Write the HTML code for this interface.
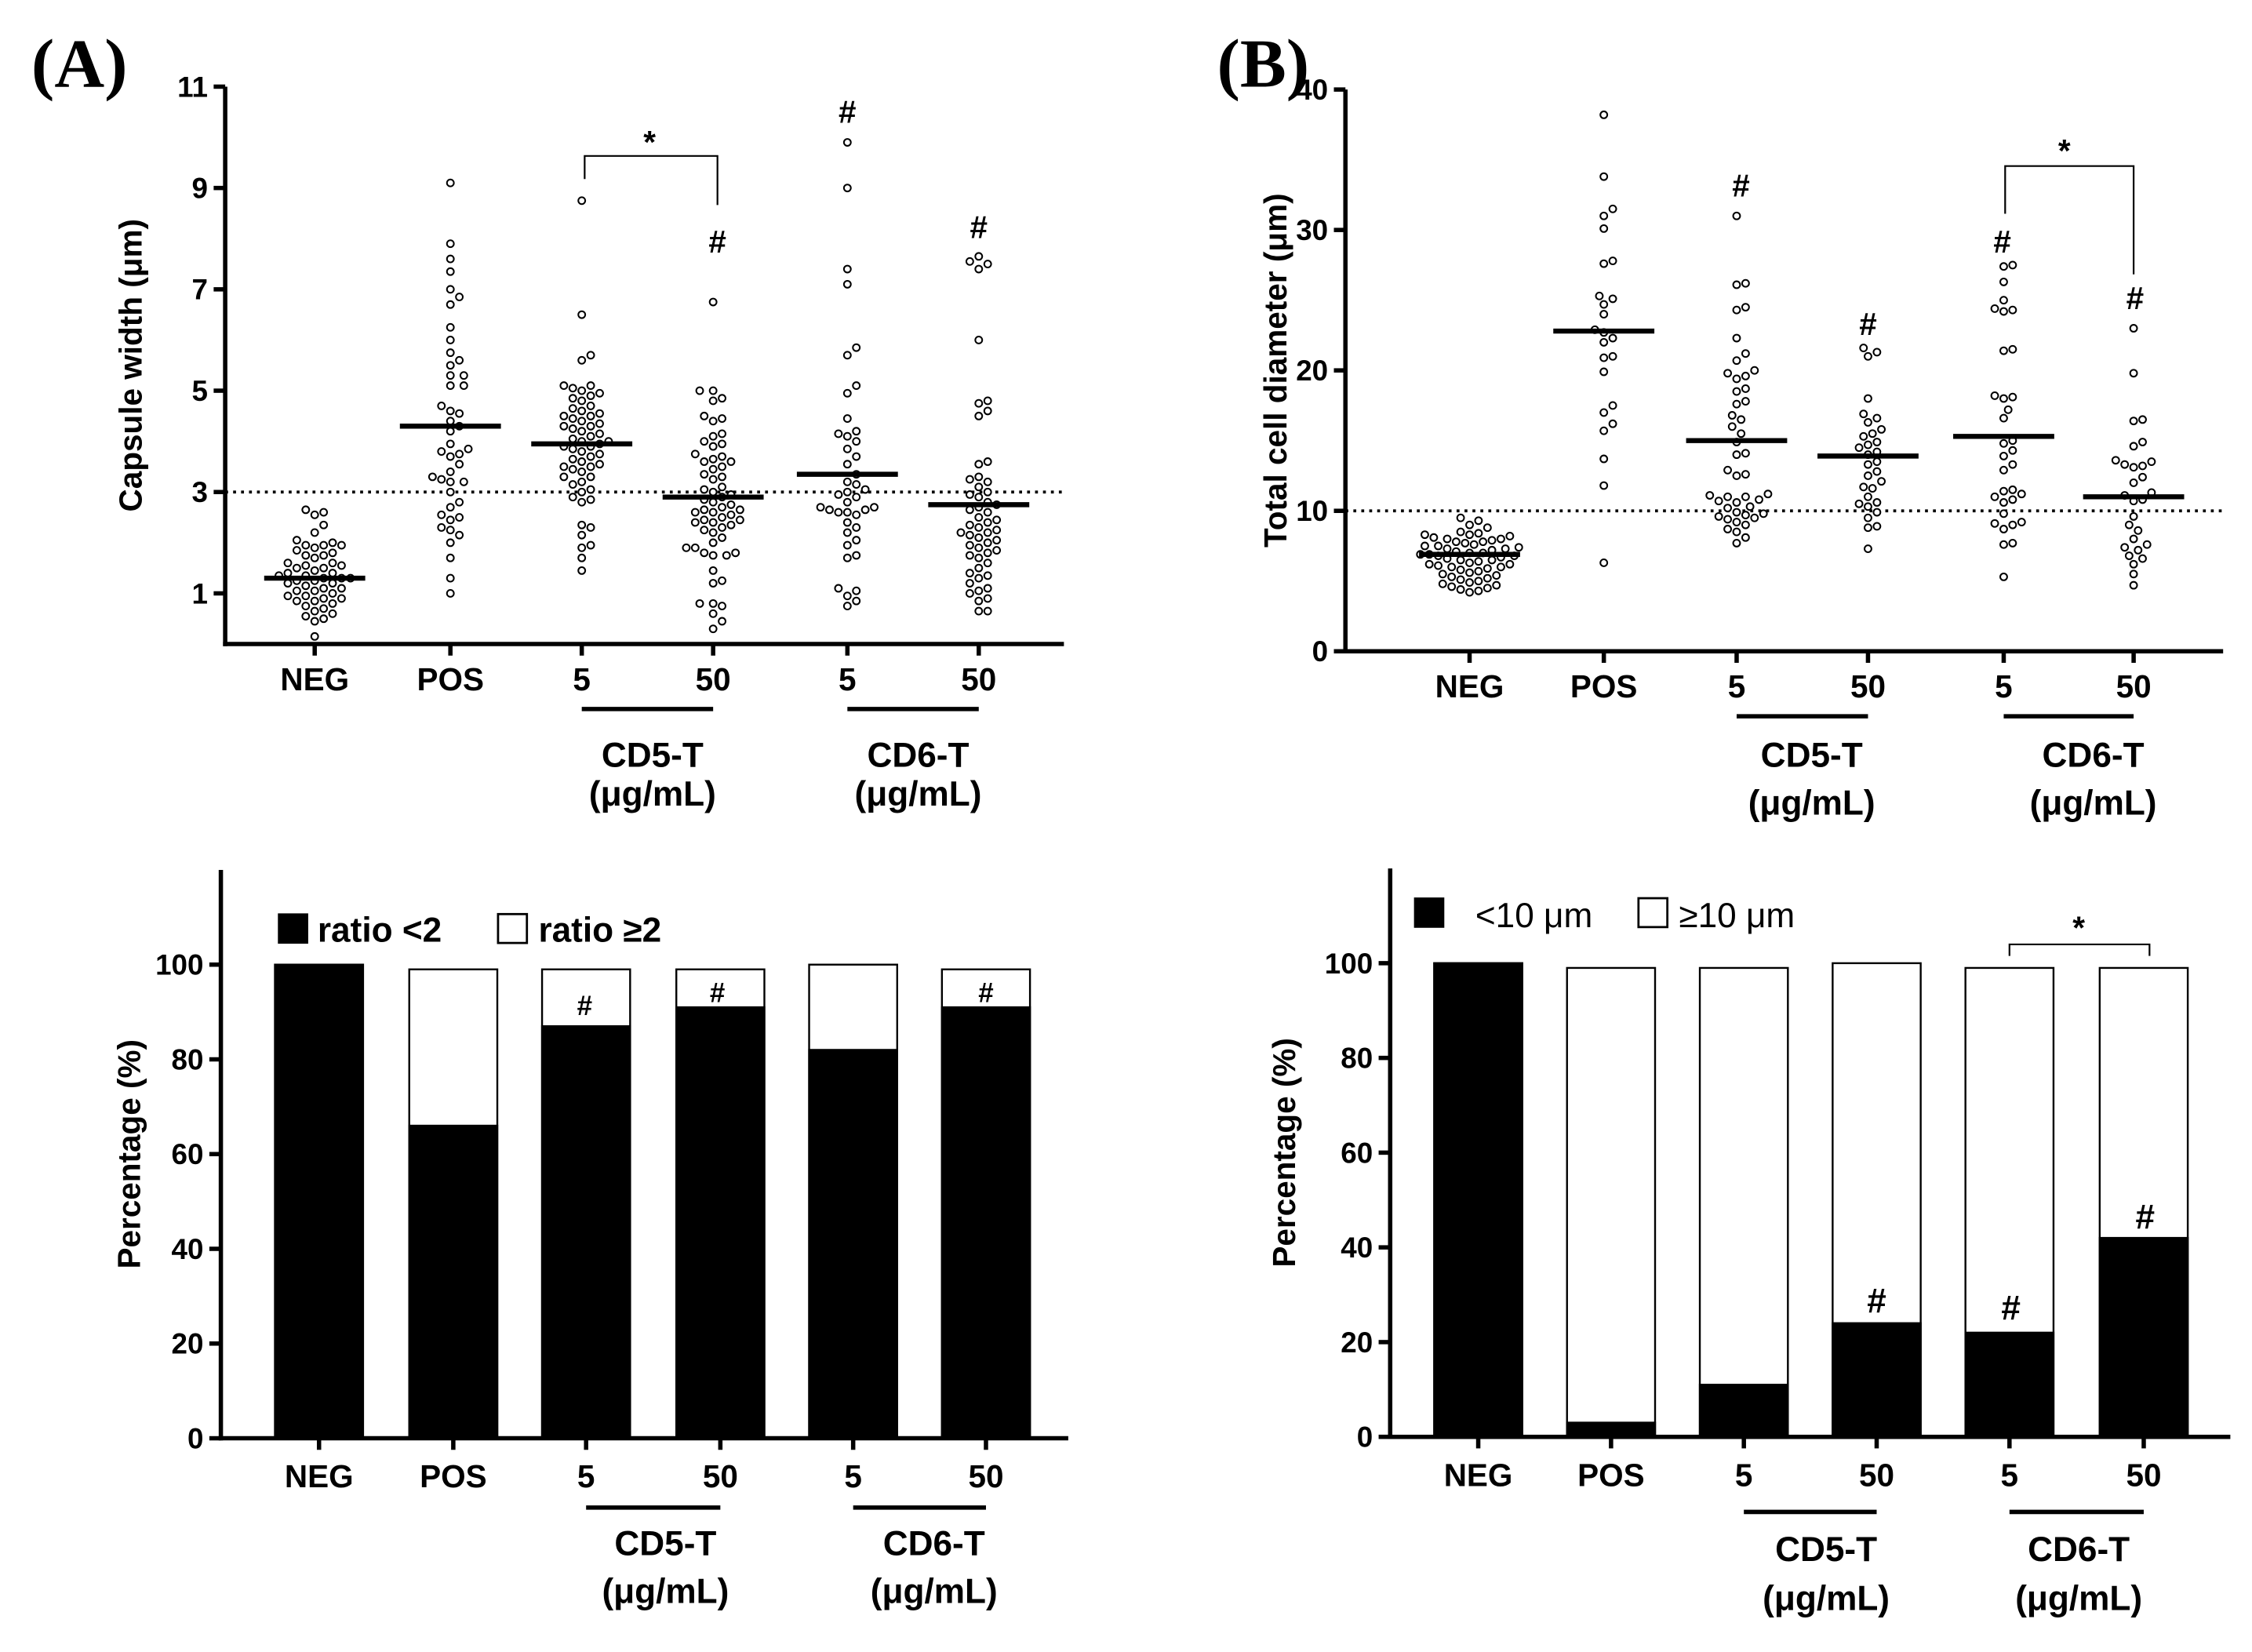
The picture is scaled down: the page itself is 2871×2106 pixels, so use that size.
<!DOCTYPE html>
<html><head><meta charset="utf-8"><style>
html,body{margin:0;padding:0;background:#fff}
svg{display:block}
</style></head><body>
<svg id="fig" width="2871" height="2106" viewBox="0 0 1560 1144" preserveAspectRatio="none" xmlns="http://www.w3.org/2000/svg"></svg>
<script>
// ---- Data ----
const categories = ["NEG","POS","5","50","5","50"];
const capNEG=[2.6,2.65,2.55,2.35,2.2,2.05,2.0,1.95,1.95,1.95,1.9,1.85,1.8,1.75,1.75,1.7,1.6,1.6,1.55,1.55,1.5,1.5,1.45,1.4,1.4,1.35,1.35,1.3,1.3,1.3,1.25,1.25,1.2,1.2,1.15,1.1,1.1,1.05,1.05,1.0,0.95,0.95,0.9,0.9,0.85,0.85,0.8,0.75,0.7,0.65,0.6,0.55,0.5,0.45,0.15];
const capPOS=[9.1,7.9,7.6,7.35,7.0,6.85,6.7,6.25,6.0,5.75,5.6,5.5,5.3,5.3,5.1,5.1,4.7,4.6,4.55,4.4,4.3,4.2,3.95,3.85,3.8,3.75,3.7,3.55,3.4,3.3,3.25,3.2,3.2,3.0,2.8,2.7,2.55,2.5,2.45,2.3,2.25,2.15,2.0,1.7,1.3,1.0];
const capCD5_5=[8.75,6.5,5.7,5.6,5.1,5.1,5.05,5.0,4.95,4.9,4.85,4.8,4.7,4.65,4.6,4.55,4.5,4.5,4.45,4.4,4.35,4.3,4.3,4.25,4.2,4.15,4.1,4.05,4.0,4.0,3.95,3.9,3.9,3.85,3.8,3.75,3.7,3.65,3.6,3.55,3.5,3.5,3.45,3.4,3.3,3.3,3.2,3.15,3.05,3.0,2.9,2.85,2.8,2.35,2.3,2.15,1.95,1.9,1.7,1.45];
const capCD5_50=[6.75,5.0,5.0,4.85,4.8,4.5,4.45,4.4,4.15,4.1,4.0,3.95,3.9,3.75,3.7,3.65,3.6,3.6,3.5,3.45,3.35,3.3,3.25,3.1,3.05,3.0,2.95,2.9,2.85,2.8,2.75,2.7,2.65,2.65,2.6,2.6,2.55,2.5,2.45,2.45,2.4,2.4,2.35,2.3,2.25,2.2,2.1,2.0,1.9,1.9,1.8,1.8,1.75,1.75,1.45,1.25,1.2,0.8,0.8,0.75,0.6,0.45,0.3];
const capCD6_5=[9.9,9.0,7.4,7.1,5.85,5.7,5.1,4.95,4.45,4.2,4.15,4.1,4.0,3.85,3.7,3.55,3.35,3.2,3.15,3.05,3.0,2.95,2.9,2.8,2.7,2.7,2.65,2.65,2.6,2.6,2.55,2.4,2.3,2.2,2.05,1.95,1.75,1.7,1.1,1.05,0.95,0.85,0.75];
const capCD6_50=[7.65,7.55,7.5,7.4,6.0,4.8,4.75,4.6,4.5,3.6,3.55,3.3,3.25,3.2,3.1,3.0,2.95,2.9,2.8,2.75,2.7,2.65,2.6,2.5,2.45,2.4,2.35,2.3,2.25,2.2,2.2,2.15,2.1,2.05,2.0,1.95,1.9,1.85,1.8,1.75,1.7,1.6,1.5,1.4,1.35,1.3,1.2,1.1,1.05,1.0,0.9,0.85,0.65,0.65];
const capMeans=[1.3,4.3,3.95,2.9,3.35,2.75];
const capTicks=[1,3,5,7,9,11];

const diaNEG=[9.5,9.3,9.0,8.8,8.5,8.4,8.3,8.3,8.2,8.1,8.0,8.0,7.9,7.8,7.8,7.7,7.6,7.5,7.5,7.4,7.3,7.3,7.2,7.1,7.0,7.0,6.9,6.9,6.8,6.8,6.7,6.6,6.5,6.5,6.4,6.3,6.2,6.2,6.1,6.0,6.0,5.9,5.8,5.7,5.6,5.5,5.4,5.3,5.2,5.1,5.0,4.9,4.8,4.7,4.6,4.5,4.4,4.3,4.2];
const diaPOS=[38.2,33.8,31.5,31.0,30.1,27.8,27.6,25.3,25.1,24.7,24.0,22.9,22.7,22.3,22.0,21.0,20.9,19.9,17.5,17.0,16.2,15.7,13.7,11.8,6.3];
const diaCD5_5=[31.0,26.2,26.1,24.5,24.3,22.3,21.2,20.7,20.0,19.8,19.6,19.4,18.7,18.5,17.8,17.6,16.8,16.5,16.0,15.5,14.9,14.1,14.0,12.9,12.6,12.5,11.2,11.1,11.0,11.0,10.8,10.7,10.6,10.3,10.2,9.9,9.8,9.7,9.6,9.5,9.4,9.2,9.0,8.7,8.5,8.1,7.7];
const diaCD5_50=[21.6,21.3,21.0,18.0,16.9,16.6,16.3,15.8,15.5,15.3,14.9,14.7,14.5,14.2,14.0,13.5,13.3,12.8,12.5,12.1,11.7,11.6,11.0,10.6,10.5,10.3,9.9,9.5,8.9,8.8,7.3];
const diaCD6_5=[27.5,27.4,26.3,25.0,24.4,24.3,24.2,21.5,21.4,18.2,18.1,18.0,17.2,16.6,15.0,14.8,14.3,13.9,13.3,12.9,11.5,11.4,11.2,11.0,10.8,10.6,9.8,9.2,9.1,9.0,8.7,7.7,7.6,5.3];
const diaCD6_50=[23.0,19.8,16.5,16.4,14.9,14.6,13.6,13.5,13.3,13.2,13.1,12.4,12.0,11.3,11.1,10.8,10.7,9.6,9.0,8.6,8.0,7.6,7.4,7.2,6.8,6.6,6.2,5.5,4.7];
const diaMeans=[6.9,22.8,15.0,13.9,15.3,11.0];
const diaTicks=[0,10,20,30,40];

const ratioBlack=[100,66,87,91,82,91];
const ratioTotal=[100,99,99,99,100,99];
const sizeBlack=[100,3,11,24,22,42];
const sizeTotal=[100,99,99,100,99,99];
const pctTicks=[0,20,40,60,80,100];

// ---- helpers ----
const NS="http://www.w3.org/2000/svg";
const svg=document.getElementById('fig');
const SANS='font-family:"Liberation Sans",Arial,sans-serif;';
function el(tag,attrs,parent,txt){const e=document.createElementNS(NS,tag);for(const k in attrs)e.setAttribute(k,attrs[k]);if(txt!==undefined)e.textContent=txt;(parent||svg).appendChild(e);return e;}
function grp(name){const g=el('g',{});return g;}
function txt(g,x,y,s,size,name,anchor,extra,style){const t=el('text',Object.assign({x:x,y:y,'font-size':size,'text-anchor':anchor||'middle',fill:'#000',style:style||(SANS+'font-weight:bold;')},extra||{}),g,s);return t;}
function line(g,x1,y1,x2,y2,w,extra){return el('line',Object.assign({x1:x1,y1:y1,x2:x2,y2:y2,stroke:'#000','stroke-width':w},extra||{}),g);}

function beeswarm(vals,cx,yf,d){
  const placed=[];const out=[];
  const sorted=vals.slice().sort((a,b)=>a-b);
  for(const v of sorted){const y=yf(v);let best=null;
    for(let k=0;k<40&&best===null;k++){for(const s of (k===0?[0]:[k,-k])){const x=cx+s*d*0.5;
      if(placed.every(p=>(p[0]-x)**2+(p[1]-y)**2>=d*d)){best=x;break;}}}
    placed.push([best,y]);out.push([best,y]);}
  return out;
}

function scatterPanel(o){
  const g=grp(o.name);
  const yf=v=>o.y0+(v-o.vmin)*(o.y1-o.y0)/(o.vmax-o.vmin);
  line(g,o.ax,yf(o.thr),o.xend,yf(o.thr),2,{'stroke-dasharray':'2,3.5'});
  const ya=line(g,o.ax,yf(o.vmax),o.ax,o.y0+1.5,3);
  const xa=line(g,o.ax-1.5,o.y0,o.xend,o.y0,3);
  o.ticks.forEach(t=>{line(g,o.ax-8,yf(t),o.ax,yf(t),3);txt(g,o.ax-12,yf(t)+7,String(t),20,'y-tick-label','end');});
  txt(g,0,0,o.ytitle,22,'y-axis-title','middle',{transform:`translate(${o.tx},${(yf(o.vmax)+o.y0)/2}) rotate(-90)`});
  o.groups.forEach((vals,i)=>{
    const cx=o.cx[i];
    line(g,cx,o.y0,cx,o.y0+8,3);
    txt(g,cx,o.y0+32,categories[i],22,'x-tick-label-'+categories[i]);
    const gg=grp('dots-'+i);g.appendChild(gg);
    beeswarm(vals,cx,yf,6.2).forEach(p=>{const c=el('circle',{cx:p[0].toFixed(2),cy:p[1].toFixed(2),r:2.4,fill:'#fff',stroke:'#000','stroke-width':1.1},gg);
      
      });
    const m=line(g,cx-35,yf(o.means[i]),cx+35,yf(o.means[i]),3.5);
    
  });
  return {g,yf};
}

function groupLabels(g,cx,lineY,t1,t2,xs,names){
  [[2,3],[4,5]].forEach((p,j)=>{
    line(g,cx[p[0]],lineY,cx[p[1]],lineY,3);
    const mid=xs[j];
    txt(g,mid,lineY+t1,names[j].toUpperCase()+'-T',24,names[j]+'-label');
    txt(g,mid,lineY+t2,'(\u03bcg/mL)',24,names[j]+'-unit');
  });
}

const SERIF='font-family:"Liberation Serif",serif;font-weight:bold;';
txt(svg,55,60,'(A)',48,'panel-label-a','middle',{},SERIF);
txt(svg,875,60,'(B)',48,'panel-label-b','middle',{},SERIF);

// ---- Panel A top ----
const cxA=[218,312,403,494,587,678];
const A=scatterPanel({name:'capsule-width-chart',ax:156,xend:737,y0:446,vmin:0,vmax:11,y1:60,thr:3,ticks:capTicks,
  ytitle:'Capsule width (\u03bcm)',tx:98,cx:cxA,means:capMeans,groups:[capNEG,capPOS,capCD5_5,capCD5_50,capCD6_5,capCD6_50]});
groupLabels(A.g,cxA,491,40,67,[452,636],['cd5','cd6']);
el('path',{d:'M405,124 V108 H497 V142',fill:'none',stroke:'#000','stroke-width':1.2},A.g);
txt(A.g,450,106,'*',22,'significance-star');
txt(A.g,497,175,'#',22,'hash-marker');
txt(A.g,587,85,'#',22,'hash-marker');
txt(A.g,678,165,'#',22,'hash-marker');

// ---- Panel B top ----
const cxB=[1018,1111,1203,1294,1388,1478];
const B=scatterPanel({name:'cell-diameter-chart',ax:932,xend:1540,y0:451,vmin:0,vmax:40,y1:62,thr:10,ticks:diaTicks,
  ytitle:'Total cell diameter (\u03bcm)',tx:891,cx:cxB,means:diaMeans,groups:[diaNEG,diaPOS,diaCD5_5,diaCD5_50,diaCD6_5,diaCD6_50]});
groupLabels(B.g,cxB,496,35,68,[1255,1450],['cd5','cd6']);
el('path',{d:'M1389,148 V115 H1478 V190',fill:'none',stroke:'#000','stroke-width':1.2},B.g);
txt(B.g,1430,112,'*',22,'significance-star');
[[1206,136],[1294,232],[1387,175],[1479,214]].forEach(p=>txt(B.g,p[0],p[1],'#',22,'hash-marker'));

// ---- Bar panels ----
function barPanel(o){
  const g=grp(o.name);
  const yf=v=>o.y0-v*3.28;
  o.cx.forEach((cx,i)=>{
    const w=61;
    const wr=el('rect',{x:cx-w/2,y:yf(o.total[i]),width:w,height:yf(0)-yf(o.total[i]),fill:'#fff',stroke:'#000','stroke-width':1.3},g);
    
    const br=el('rect',{x:cx-w/2,y:yf(o.black[i]),width:w,height:yf(0)-yf(o.black[i]),fill:'#000',stroke:'#000','stroke-width':1.3},g);
    
    line(g,cx,o.y0,cx,o.y0+8,3);
    txt(g,cx,o.y0+34,categories[i],22,'x-tick-label-'+categories[i]);
  });
  line(g,o.ax,yf(120),o.ax,o.y0+1.5,3);
  line(g,o.ax-1.5,o.y0,o.xend,o.y0,3);
  pctTicks.forEach(t=>{line(g,o.ax-8,yf(t),o.ax,yf(t),3);txt(g,o.ax-12,yf(t)+7,String(t),20,'y-tick-label','end');});
  txt(g,0,0,'Percentage (%)',22,'y-axis-title','middle',{transform:`translate(${o.tx},${yf(60)}) rotate(-90)`});
  return {g,yf};
}
const cxC=[221,314,406,499,591,683];
const C=barPanel({name:'ratio-bar-chart',ax:153,xend:740,y0:996,cx:cxC,black:ratioBlack,total:ratioTotal,tx:97});
groupLabels(C.g,cxC,1044,33,66,[461,647],['cd5','cd6']);
el('rect',{x:193,y:633,width:20,height:20,fill:'#000',stroke:'#000'},C.g);
txt(C.g,220,652,'ratio <2',24,'legend-entry','start');
el('rect',{x:345,y:633,width:20,height:20,fill:'#fff',stroke:'#000','stroke-width':1.5},C.g);
txt(C.g,373,652,'ratio \u22652',24,'legend-entry','start');
[[405,703],[497,694],[683,694]].forEach(p=>txt(C.g,p[0],p[1],'#',19,'hash-marker'));

const cxD=[1024,1116,1208,1300,1392,1485];
const D=barPanel({name:'size-bar-chart',ax:963,xend:1545,y0:995,cx:cxD,black:sizeBlack,total:sizeTotal,tx:897});
groupLabels(D.g,cxD,1047,34,68,[1265,1440],['cd5','cd6']);
el('rect',{x:980,y:622,width:20,height:20,fill:'#000',stroke:'#000'},D.g);
txt(D.g,1022,642,'<10 \u03bcm',24,'legend-entry','start',{},SANS+'font-weight:normal;');
el('rect',{x:1135,y:622,width:20,height:20,fill:'#fff',stroke:'#000','stroke-width':1.5},D.g);
txt(D.g,1163,642,'\u226510 \u03bcm',24,'legend-entry','start',{},SANS+'font-weight:normal;');
el('path',{d:'M1392,662 V654 H1489 V662',fill:'none',stroke:'#000','stroke-width':1.2},D.g);
txt(D.g,1440,650,'*',22,'significance-star');
[[1300,909],[1393,914],[1486,851]].forEach(p=>txt(D.g,p[0],p[1],'#',24,'hash-marker'));
</script>
</body></html>
